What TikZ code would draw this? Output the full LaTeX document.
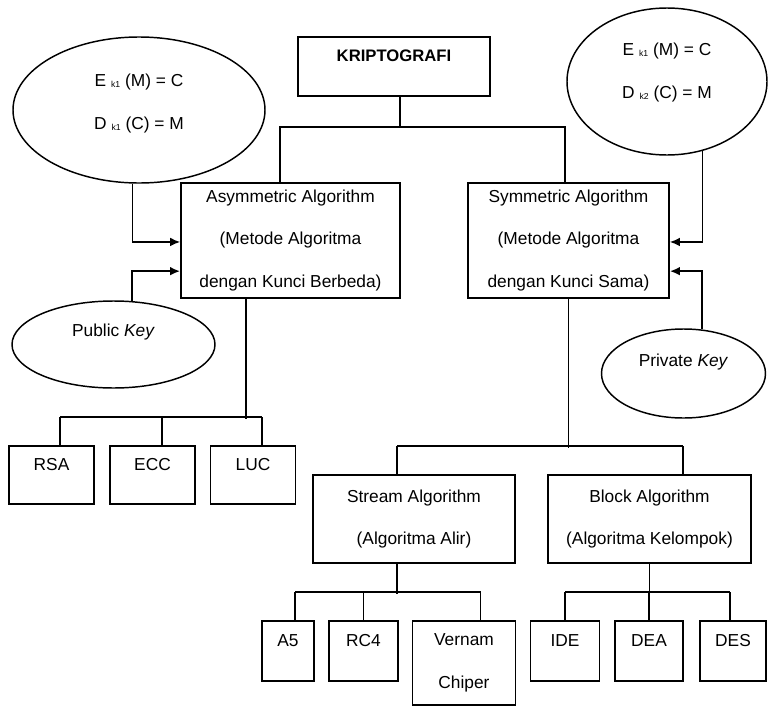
\documentclass[tikz,border=0pt]{standalone}
\usepackage{fontspec}
\setmainfont{Liberation Sans}
\usetikzlibrary{arrows.meta,positioning,shapes.geometric}

\newcommand{\ksub}[1]{\raisebox{-1pt}{\fontsize{6.5}{7}\selectfont #1}}

\begin{document}
\begin{tikzpicture}[
  x=0.75pt,y=-0.75pt,
  font=\fontsize{13}{32}\selectfont,
  box/.style={draw,line width=1.2pt,align=center,inner sep=2pt},
  small/.style={box,text height=9pt,text depth=16pt},
  keyell/.style={draw,ellipse,line width=1.1pt,align=center,inner sep=0pt},
  lnk/.style={line width=1.2pt},
  bar/.style={line width=1.9pt},
  arr/.style={-{Latex[length=7.5pt,width=6.5pt]},line width=1.2pt}
]
\path[use as bounding box,fill=white] (0,0) rectangle (768,707);

% top of the tree
\node[box,line width=1.5pt,minimum width=144pt,minimum height=44.25pt,
      text height=9pt,text depth=17pt,font=\fontsize{12.5}{15}\selectfont\bfseries] (krip) at (394,66.5) {KRIPTOGRAFI};
\node[box,minimum width=164.25pt,minimum height=86.25pt] (asym) at (290.5,240.5)
  {Asymmetric Algorithm\\(Metode Algoritma\\dengan Kunci Berbeda)};
\node[box,minimum width=150.75pt,minimum height=86.25pt] (sym) at (568.5,240.5)
  {Symmetric Algorithm\\(Metode Algoritma\\dengan Kunci Sama)};

% keys
\node[keyell,minimum width=189pt,minimum height=109.5pt,text depth=12.8pt] (encl) at (139,110)
  {E \ksub{k1} (M) = C\\D \ksub{k1} (C) = M};
\node[keyell,minimum width=150pt,minimum height=110.25pt,text depth=16.5pt] (encr) at (667,81.5)
  {E \ksub{k1} (M) = C\\D \ksub{k2} (C) = M};
\node[keyell,minimum width=152.25pt,minimum height=65.25pt,text height=9pt,text depth=21.75pt] (pub) at (113.5,344.5)
  {Public \textit{Key}};
\node[keyell,minimum width=123pt,minimum height=66.75pt,text height=9pt,text depth=20.25pt] (priv) at (683.5,373.5)
  {Private \textit{Key}};

% asymmetric algorithms
\node[small,minimum width=63.75pt,minimum height=43.5pt] (rsa) at (51.5,475) {RSA};
\node[small,minimum width=63.75pt,minimum height=43.5pt] (ecc) at (152.5,475) {ECC};
\node[small,minimum width=63.75pt,minimum height=43.5pt] (luc) at (253,475) {LUC};

% symmetric algorithms
\node[box,minimum width=151.5pt,minimum height=66pt] (stream) at (414,519)
  {Stream Algorithm\\(Algoritma Alir)};
\node[box,minimum width=152.25pt,minimum height=66pt] (block) at (649.5,519)
  {Block Algorithm\\(Algoritma Kelompok)};

\node[small,minimum width=39pt,minimum height=45pt] (a5) at (288,651) {A5};
\node[small,minimum width=51.75pt,minimum height=45pt] (rc4) at (363.5,651) {RC4};
\node[box,minimum width=77.25pt,minimum height=63pt] (vernam) at (464,663) {Vernam\\Chiper};
\node[small,minimum width=51.5pt,minimum height=45pt] (ide) at (565,651) {IDE};
\node[small,minimum width=51pt,minimum height=45pt] (dea) at (649,651) {DEA};
\node[small,minimum width=49.5pt,minimum height=45pt] (des) at (733,651) {DES};

% connectors
\draw[lnk] ([xshift=4.5pt]krip.south) -- ++(0,30) coordinate (kbar);
\draw[lnk] ([xshift=-8pt]asym.north) |- (kbar) -| ([xshift=-2.6pt]sym.north);

\draw[arr] ([xshift=-5pt]encl.south) |- ([yshift=-1.1pt]asym.west);
\draw[arr,line width=1.7pt] (pub.67) |- ([yshift=-23pt]asym.west);
\draw[arr] (encr.-63) |- ([yshift=-1.1pt]sym.east);
\draw[arr,line width=1.7pt] (priv.67) |- ([yshift=-23pt]sym.east);

\draw[lnk] ([xshift=-33.4pt]asym.south) -- ++(0,120);
\draw[bar] ([xshift=6.5pt]rsa.north) -- ++(0,-28) coordinate (rsab);
\draw[lnk] ([xshift=7pt]ecc.north) -- ++(0,-28);
\draw[bar] ([xshift=6.75pt]luc.north) -- ++(0,-28) coordinate (lucb);
\draw[lnk] (rsab) -- (lucb);

\draw[lnk] (sym.south) -- ++(0,149);
\draw[bar] ([xshift=-12.75pt]stream.north) -- ++(0,-28) coordinate (stb);
\draw[lnk] ([xshift=25.1pt]block.north) -- ++(0,-28) coordinate (blb);
\draw[bar] (stb) -- (blb);

\draw[bar] ([xshift=-12.75pt]stream.south) -- ++(0,30);
\draw[lnk] ([xshift=5.25pt]a5.north) -- ++(0,-28) coordinate (a5b);
\draw[lnk] (rc4.north) -- ++(0,-28);
\draw[lnk] ([xshift=12.4pt]vernam.north) -- ++(0,-28) coordinate (vnb);
\draw[bar] (a5b) -- (vnb);

\draw[lnk] (block.south) -- ++(0,30);
\draw[lnk] (ide.north) -- ++(0,-28) coordinate (ideb);
\draw[lnk] (dea.north) -- ++(0,-28);
\draw[lnk] ([xshift=-2.25pt]des.north) -- ++(0,-28) coordinate (desb);
\draw[bar] (ideb) -- (desb);
\end{tikzpicture}
\end{document}
